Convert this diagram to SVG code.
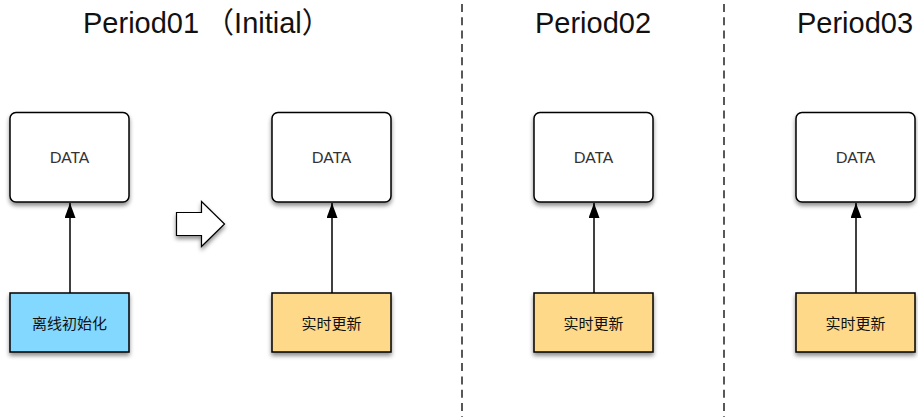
<svg xmlns="http://www.w3.org/2000/svg" width="918" height="417" viewBox="0 0 918 417">
  <style>
    .title { font-family: "Liberation Sans", "Noto Sans CJK SC", sans-serif; font-size: 29px; fill: #111; }
    .data { fill: #fff; stroke: #000; stroke-width: 1.5; }
    .src { stroke: #000; stroke-width: 1.5; }
    .offline { fill: #82d8ff; }
    .realtime { fill: #fed98a; }
    .lbl { font-family: "Lato", "Liberation Sans", sans-serif; font-size: 15.5px; fill: #333; text-anchor: middle; }
    .cjk { font-family: "Noto Sans CJK SC", sans-serif; font-size: 15px; fill: #111; text-anchor: middle; }
    .link { stroke: #000; stroke-width: 1.5; fill: none; marker-end: url(#tri); }
    .divider { stroke: #222; stroke-width: 1.5; stroke-dasharray: 8 5.3; }
  </style>
  <defs>
    <filter id="shadow" x="-20%" y="-20%" width="140%" height="150%">
      <feDropShadow dx="0" dy="3" stdDeviation="2" flood-color="#000" flood-opacity="0.45"/>
    </filter>
    <marker id="tri" viewBox="0 0 15 11" refX="15" refY="5.5" markerWidth="15" markerHeight="11" markerUnits="userSpaceOnUse" orient="auto">
      <path d="M0,0 L15,5.5 L0,11 z" fill="#000"/>
    </marker>
  </defs>

  <rect width="918" height="417" fill="#fff"/>

  <!-- titles -->
  <text class="title" x="83" y="33">Period01<tspan dx="6">（Initial）</tspan></text>
  <text class="title" x="593" y="33" text-anchor="middle">Period02</text>
  <text class="title" x="855" y="33" text-anchor="middle">Period03</text>

  <!-- period dividers -->
  <line class="divider" x1="462" y1="4" x2="462" y2="417"/>
  <line class="divider" x1="724" y1="4" x2="724" y2="417"/>

  <!-- transition arrow -->
  <path d="M176.5,212.5 H201.5 V201.5 L224.5,224 L201.5,246.5 V235.5 H176.5 Z" fill="#fff" stroke="#000" stroke-width="1.2" filter="url(#shadow)"/>

  <!-- connectors -->
  <g id="connectors">
    <line class="link" x1="70" y1="293" x2="70" y2="203"/>
    <line class="link" x1="332" y1="293" x2="332" y2="203"/>
    <line class="link" x1="594" y1="293" x2="594" y2="203"/>
    <line class="link" x1="856" y1="293" x2="856" y2="203"/>
  </g>

  <!-- period 01 -->
  <g id="data1">
    <rect class="data" x="10" y="112.5" width="119" height="89.5" rx="6" filter="url(#shadow)"/>
    <text class="lbl" x="69.5" y="162.5">DATA</text>
  </g>
  <g id="offline-init">
    <rect class="src offline" x="10" y="293" width="119" height="59" filter="url(#shadow)"/>
    <text class="cjk" x="69.5" y="328.5">离线初始化</text>
  </g>
  <g id="data2">
    <rect class="data" x="272" y="112.5" width="119" height="89.5" rx="6" filter="url(#shadow)"/>
    <text class="lbl" x="331.5" y="162.5">DATA</text>
  </g>
  <g id="realtime1">
    <rect class="src realtime" x="272" y="293" width="119" height="59" filter="url(#shadow)"/>
    <text class="cjk" x="331.5" y="328.5">实时更新</text>
  </g>

  <!-- period 02 -->
  <g id="data3">
    <rect class="data" x="534" y="112.5" width="119" height="89.5" rx="6" filter="url(#shadow)"/>
    <text class="lbl" x="593.5" y="162.5">DATA</text>
  </g>
  <g id="realtime2">
    <rect class="src realtime" x="534" y="293" width="119" height="59" filter="url(#shadow)"/>
    <text class="cjk" x="593.5" y="328.5">实时更新</text>
  </g>

  <!-- period 03 -->
  <g id="data4">
    <rect class="data" x="796" y="112.5" width="119" height="89.5" rx="6" filter="url(#shadow)"/>
    <text class="lbl" x="855.5" y="162.5">DATA</text>
  </g>
  <g id="realtime3">
    <rect class="src realtime" x="796" y="293" width="119" height="59" filter="url(#shadow)"/>
    <text class="cjk" x="855.5" y="328.5">实时更新</text>
  </g>
</svg>
